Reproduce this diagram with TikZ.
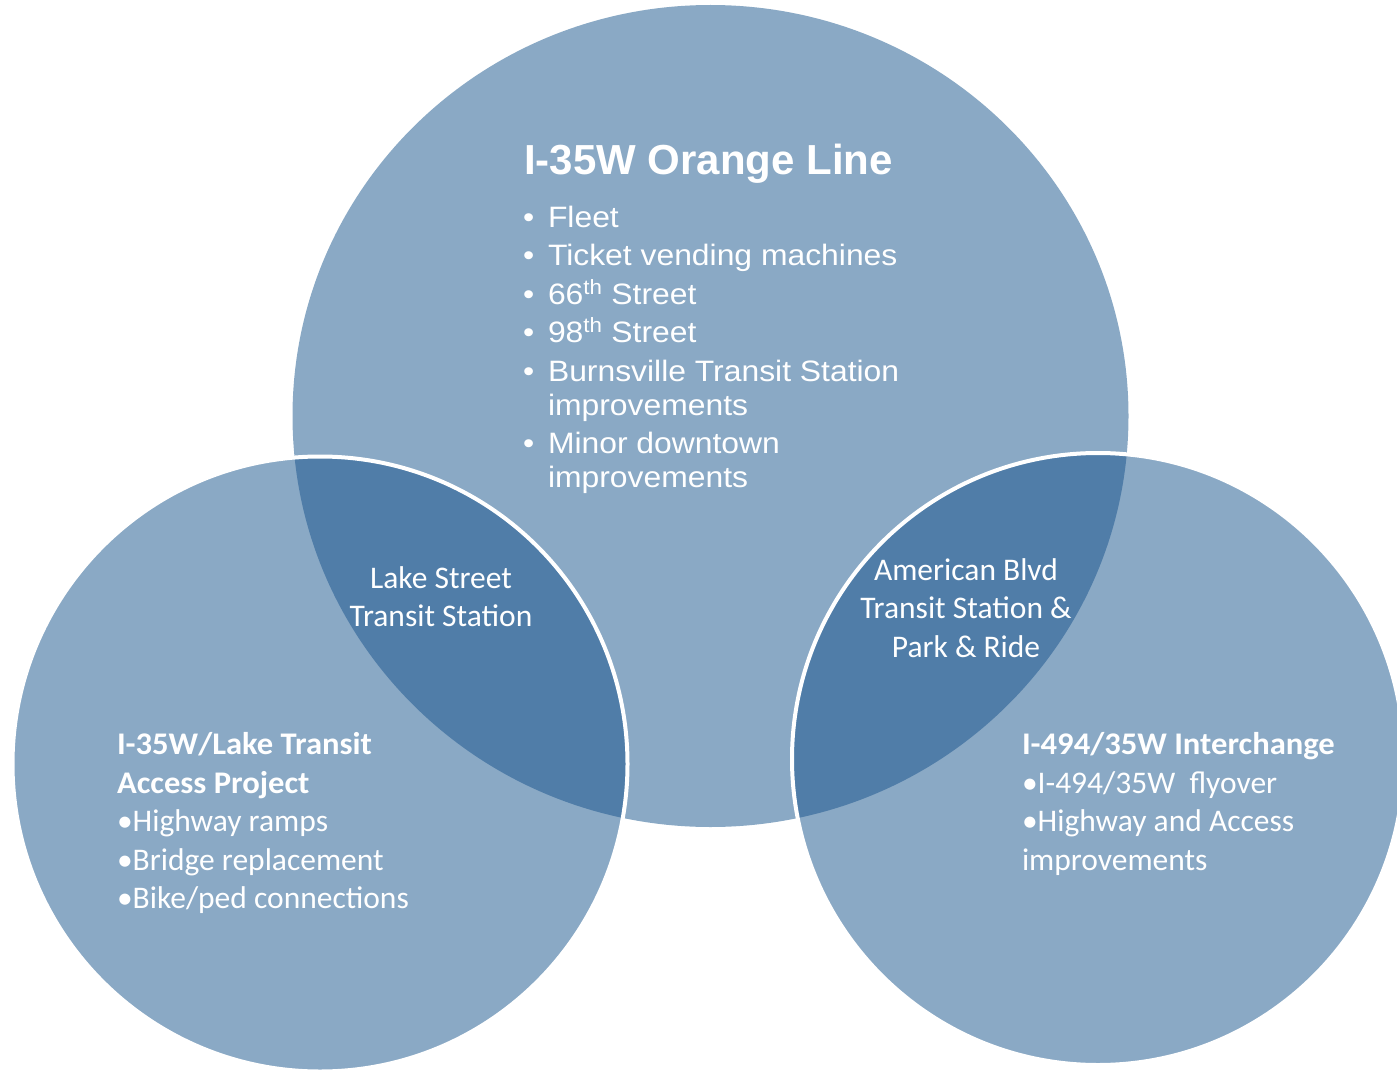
\documentclass[tikz,border=0pt]{standalone}
\usepackage{fontspec}
\setmainfont{Liberation Sans}
\newfontfamily\calfont{Carlito}
\newfontfamily\listfam[FakeStretch=1.08]{Liberation Sans}
\newfontfamily\calboldfam[FakeStretch=1.035]{Carlito}
\definecolor{lightblue}{HTML}{8AA9C5}
\definecolor{darkblue}{HTML}{507DA8}
\begin{document}
\begin{tikzpicture}[x=1pt,y=-1pt,
  txt/.style={anchor=base west, inner sep=0pt, outer sep=0pt, text=white},
  ctxt/.style={anchor=base, inner sep=0pt, outer sep=0pt, text=white},
  titlefont/.style={font=\fontsize{42}{50}\selectfont\bfseries},
  listfont/.style={font=\listfam\fontsize{29.5}{34}\selectfont},
  calfnt/.style={font=\calfont\fontsize{31.5}{37}\selectfont},
  calbold/.style={font=\calboldfam\fontsize{31.5}{37}\selectfont\bfseries},
  ring/.style={draw=white, line width=4pt}]
\useasboundingbox (0,0) rectangle (1397,1070);
\coordinate (cT) at (710.5,416);
\coordinate (cL) at (320,764);
\coordinate (cR) at (1098,759);
% circles
\fill[lightblue] (cT) ellipse [x radius=418pt, y radius=411pt];
\fill[lightblue] (cL) circle [radius=307.5pt];
\fill[lightblue] (cR) circle [radius=306pt];
\begin{scope}
  \clip (cT) ellipse [x radius=418pt, y radius=411pt];
  \fill[darkblue] (cL) circle [radius=307.5pt];
  \fill[darkblue] (cR) circle [radius=306pt];
\end{scope}
\draw[ring] (cL) circle [radius=307.5pt];
\draw[ring] (cR) circle [radius=306pt];
% top circle text
\node[txt, titlefont] (title) at (524,175) {I-35W Orange Line};
\node[txt, listfont] (b1) at (523,227) {•};
\node[txt, listfont] (t1) at (548,227) {Fleet};
\node[txt, listfont] (b2) at (523,265) {•};
\node[txt, listfont] (t2) at (548,265) {Ticket vending machines};
\node[txt, listfont] (b3) at (523,304) {•};
\node[txt, listfont] (t3) at (548,304) {66\textsuperscript{th} Street};
\node[txt, listfont] (b4) at (523,342) {•};
\node[txt, listfont] (t4) at (548,342) {98\textsuperscript{th} Street};
\node[txt, listfont] (b5) at (523,381) {•};
\node[txt, listfont] (t5) at (548,381) {Burnsville Transit Station};
\node[txt, listfont] (t5b) at (548,415) {improvements};
\node[txt, listfont] (b6) at (523,453) {•};
\node[txt, listfont] (t6) at (548,453) {Minor downtown};
\node[txt, listfont] (t6b) at (548,487) {improvements};
% left lens
\node[ctxt, calfnt] (lk1) at (441,588) {Lake Street};
\node[ctxt, calfnt] (lk2) at (441,626) {Transit Station};
% right lens
\node[ctxt, calfnt] (am1) at (966,580) {American Blvd};
\node[ctxt, calfnt] (am2) at (966,618) {Transit Station \&};
\node[ctxt, calfnt] (am3) at (966,657) {Park \& Ride};
% left circle
\node[txt, calbold] (l1) at (117,754) {I-35W/Lake Transit};
\node[txt, calbold] (l2) at (117,793) {Access Project};
\node[txt, calfnt] (l3) at (117,831) {•Highway ramps};
\node[txt, calfnt] (l4) at (117,870) {•Bridge replacement};
\node[txt, calfnt] (l5) at (117,908) {•Bike/ped connections};
% right circle
\node[txt, calbold] (r1) at (1022,754) {I-494/35W Interchange};
\node[txt, calfnt] (r2) at (1022,793) {•I-494/35W\ \ flyover};
\node[txt, calfnt] (r3) at (1022,831) {•Highway and Access};
\node[txt, calfnt] (r4) at (1022,870) {improvements};
\end{tikzpicture}
\end{document}
